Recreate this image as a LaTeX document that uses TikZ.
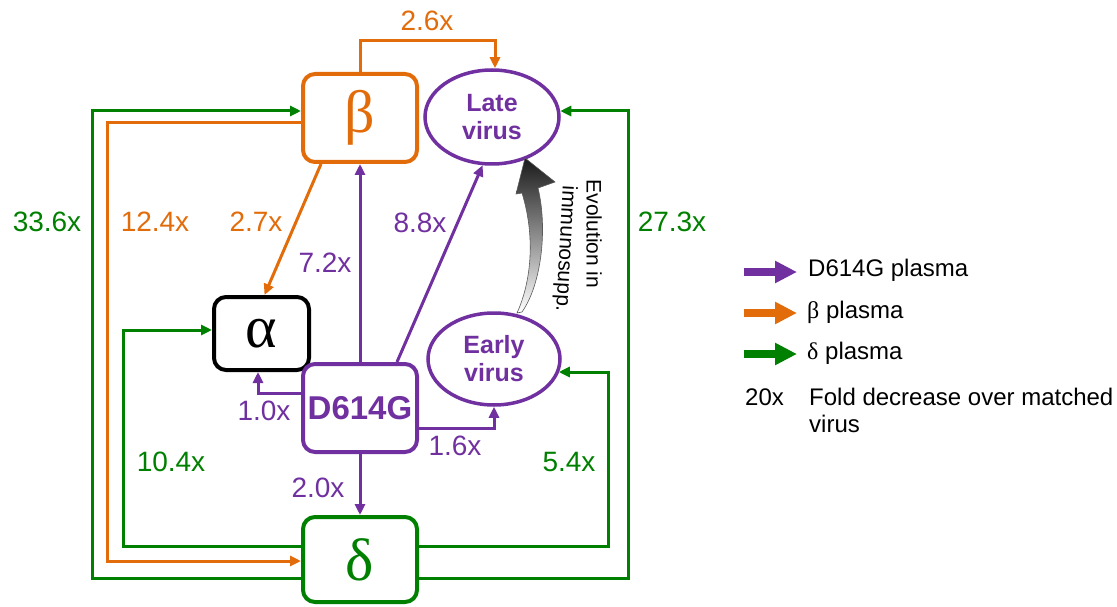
\documentclass[tikz,border=0pt]{standalone}
\usepackage{fontspec}
\setmainfont{Liberation Sans}
\newfontfamily\grk{Liberation Serif}
\usetikzlibrary{arrows.meta,shapes.geometric}
\definecolor{cOr}{RGB}{227,108,10}
\definecolor{cPu}{RGB}{112,48,160}
\definecolor{cGr}{RGB}{0,128,0}
\begin{document}
\begin{tikzpicture}[x=1pt,y=-1pt,
  box/.style={draw, rounded corners=12pt, line width=4pt, minimum width=114pt, minimum height=88pt, inner sep=0pt, fill=white},
  virus/.style={draw=cPu, ellipse, line width=3.5pt, inner sep=0pt, text=cPu, font=\fontsize{25}{28}\selectfont\bfseries, align=center},
  conn/.style={line width=3pt, -{Triangle[length=11pt,width=10pt]}},
  lab/.style={font=\fontsize{28}{32}\selectfont, inner sep=0pt},
  leg/.style={font=\fontsize{24}{27}\selectfont, inner sep=0pt, anchor=west},
  legarrow/.style={line width=8pt, -{Triangle[length=22pt,width=21pt]}},
  greek/.style={font=\grk\fontsize{60}{60}\selectfont},
  evotext/.style={font=\fontsize{21}{24}\selectfont, inner sep=0pt}
]
\useasboundingbox (0,0) rectangle (1117,607);

% nodes
\node[box, draw=cOr, text=cOr, greek] (beta) at (360,118) {β};
\node[box, draw=black, minimum width=95pt, minimum height=73pt, greek] (alpha) at (261.5,333.5) {α};
\node[box, draw=cPu, text=cPu, font=\fontsize{33}{33}\selectfont\bfseries] (d614g) at (360,408) {D614G};
\node[box, draw=cGr, text=cGr, minimum height=85pt, greek] (delta) at (360,559.5) {δ};
\node[virus, minimum width=134pt, minimum height=94pt] (late) at (492,117) {Late\\virus};
\node[virus, minimum width=132pt, minimum height=92pt] (early) at (494,359) {Early\\virus};

% bend coordinates
\coordinate (xG1) at (92,111);
\coordinate (xO) at (107,561);
\coordinate (xG2) at (123,330);
\coordinate (xG3) at (628,111);
\coordinate (xG4) at (608,372);
\coordinate (yO) at (0,41);

% delta plasma (green)
\draw[conn, cGr] ([yshift=-18.5pt]delta.west) -| (xG1) -- ([yshift=7pt]beta.west);
\draw[conn, cGr] ([yshift=13pt]delta.west) -| (xG2) -- ([yshift=3.5pt]alpha.west);
\draw[conn, cGr] ([yshift=-18.5pt]delta.east) -| (xG3) -- ([xshift=-0.5pt,yshift=6pt]late.east);
\draw[conn, cGr] ([yshift=13pt]delta.east) -| (xG4) -- ([xshift=-3pt,yshift=-13pt]early.east);

% beta plasma (orange)
\draw[conn, cOr] ([yshift=-5pt]beta.west) -| (xO) -- ([yshift=-1.5pt]delta.west);
\draw[conn, cOr] (beta.north) -- (beta.north |- yO) -| ([xshift=3pt]late.north);
\draw[conn, cOr] ([xshift=-39pt]beta.south) -- ([xshift=3pt]alpha.north);

% D614G plasma (purple)
\draw[conn, cPu] (d614g.north) -- (beta.south);
\draw[conn, cPu] ([xshift=37pt]d614g.north) -- (late.259);
\draw[conn, cPu] ([yshift=15pt]d614g.west) -| ([xshift=-3.5pt]alpha.south);
\draw[conn, cPu] ([yshift=-20pt]d614g.east) -| (early.south);
\draw[conn, cPu] (d614g.south) -- (delta.north);

% labels
\node[lab, text=cOr] (l26) at (427,21) {2.6x};
\node[lab, text=cGr] (l336) at (47,222) {33.6x};
\node[lab, text=cOr] (l124) at (155,222) {12.4x};
\node[lab, text=cOr] (l27) at (256,222) {2.7x};
\node[lab, text=cPu] (l72) at (325,263) {7.2x};
\node[lab, text=cPu] (l88) at (420,223) {8.8x};
\node[lab, text=cGr] (l273) at (672,222) {27.3x};
\node[lab, text=cPu] (l10) at (264,411) {1.0x};
\node[lab, text=cPu] (l16) at (455,446) {1.6x};
\node[lab, text=cPu] (l20) at (318,488) {2.0x};
\node[lab, text=cGr] (l104) at (171,462) {10.4x};
\node[lab, text=cGr] (l54) at (569,462) {5.4x};

% evolution arrow
\shade[top color=black!90, bottom color=white, draw=black!65, line width=0.6pt]
  (525,158) -- (555,182) -- (538,188)
  .. controls (548,230) and (541,285) .. (522,312) -- (517,313)
  .. controls (532,280) and (535,235) .. (522,193) -- (516,194) -- cycle;
\node[evotext, rotate=-90] (evo1) at (594,234) {Evolution in};
\node[evotext, rotate=-93] (evo2) at (565,249) {immunosupp.};

% legend
\coordinate (k1a) at (744,272); \coordinate (k1b) at (797,272);
\coordinate (k2a) at (744,313); \coordinate (k2b) at (797,313);
\coordinate (k3a) at (744,354); \coordinate (k3b) at (797,354);
\draw[legarrow, cPu] (k1a) -- (k1b);
\draw[legarrow, cOr] (k2a) -- (k2b);
\draw[legarrow, cGr] (k3a) -- (k3b);
\node[leg] (t1) at (808,270) {D614G plasma};
\node[leg] (t2) at (807,312) {{\grk β} plasma};
\node[leg] (t3) at (807,353) {{\grk δ} plasma};
\node[leg] (t4) at (745,397) {20x};
\node[leg] (t5) at (809,397) {Fold decrease over matched};
\node[leg] (t6) at (809,424) {virus};
\end{tikzpicture}
\end{document}
